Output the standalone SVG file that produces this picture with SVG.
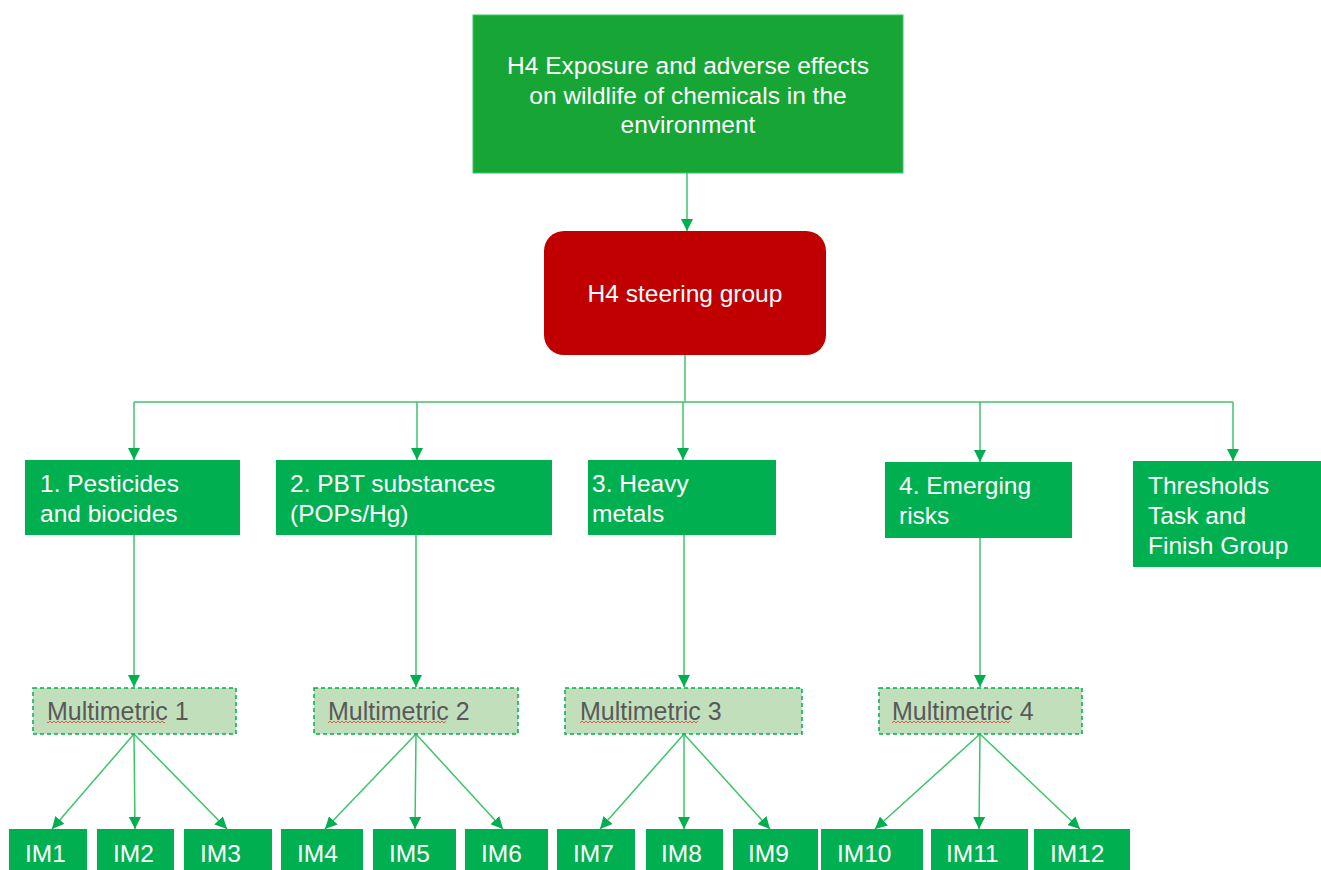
<svg xmlns="http://www.w3.org/2000/svg" width="1321" height="870" viewBox="0 0 1321 870">
<style>
  text { font-family: "Liberation Sans", Arial, sans-serif; font-size: 24.5px; }
  .w { fill: #ffffff; }
  .g { fill: #00b050; }
  .mm { fill: #c2dfbc; stroke: #00b050; stroke-width: 1.5; stroke-dasharray: 4 3; }
  .mt { fill: #595959; font-size: 25px; }
  .c { stroke: #3cc46a; stroke-width: 1.5; fill: none; }
  .ca { stroke: #3cc46a; stroke-width: 1.5; fill: none; marker-end: url(#ah); }
</style>
<defs>
  <marker id="ah" markerUnits="userSpaceOnUse" markerWidth="12" markerHeight="12" viewBox="0 0 12 12" refX="12" refY="6" orient="auto">
    <path d="M0,0 L12,6 L0,12 Z" fill="#00b050"/>
  </marker>
  <pattern id="wavy" patternUnits="userSpaceOnUse" x="0" y="0" width="4" height="4">
    <polyline points="0,3 2,1 4,3" fill="none" stroke="#e05a4a" stroke-width="1"/>
  </pattern>
</defs>
<rect width="1321" height="870" fill="#ffffff"/>

<g id="connectors">
  <line class="ca" x1="687" y1="173" x2="687" y2="231"/>
  <line class="c" x1="685" y1="355" x2="685" y2="402"/>
  <line class="c" x1="134" y1="402" x2="1233" y2="402"/>
  <line class="ca" x1="134" y1="402" x2="134" y2="460"/>
  <line class="ca" x1="417" y1="402" x2="417" y2="460"/>
  <line class="ca" x1="683" y1="402" x2="683" y2="460"/>
  <line class="ca" x1="980" y1="402" x2="980" y2="462"/>
  <line class="ca" x1="1233" y1="402" x2="1233" y2="461"/>
  <line class="ca" x1="134" y1="535" x2="134" y2="687"/>
  <line class="ca" x1="416" y1="535" x2="416" y2="687"/>
  <line class="ca" x1="684" y1="535" x2="684" y2="687"/>
  <line class="ca" x1="980" y1="538" x2="980" y2="687"/>
  <line class="ca" x1="134" y1="734" x2="52" y2="829"/>
  <line class="ca" x1="134" y1="734" x2="135" y2="829"/>
  <line class="ca" x1="134" y1="734" x2="227" y2="829"/>
  <line class="ca" x1="416" y1="734" x2="325" y2="829"/>
  <line class="ca" x1="416" y1="734" x2="415" y2="829"/>
  <line class="ca" x1="416" y1="734" x2="503" y2="829"/>
  <line class="ca" x1="684" y1="734" x2="600" y2="829"/>
  <line class="ca" x1="684" y1="734" x2="684" y2="829"/>
  <line class="ca" x1="684" y1="734" x2="770" y2="829"/>
  <line class="ca" x1="980" y1="734" x2="875" y2="829"/>
  <line class="ca" x1="980" y1="734" x2="979" y2="829"/>
  <line class="ca" x1="980" y1="734" x2="1080" y2="829"/>
</g>

<g id="h4">
  <rect x="473" y="15" width="430" height="158" fill="#17a535" stroke="#3cc46a" stroke-width="1"/>
  <text class="w" x="688" y="74" text-anchor="middle">H4 Exposure and adverse effects</text>
  <text class="w" x="688" y="104" text-anchor="middle">on wildlife of chemicals in the</text>
  <text class="w" x="688" y="133" text-anchor="middle">environment</text>
</g>

<g id="steering">
  <rect x="544" y="231" width="282" height="124" rx="20" ry="20" fill="#c00000"/>
  <text class="w" x="685" y="302" text-anchor="middle">H4 steering group</text>
</g>

<g id="n1">
  <rect class="g" x="25" y="460" width="215" height="75"/>
  <text class="w" x="40" y="492">1. Pesticides</text>
  <text class="w" x="40" y="522">and biocides</text>
</g>
<g id="n2">
  <rect class="g" x="276" y="460" width="276" height="75"/>
  <text class="w" x="290" y="492">2. PBT substances</text>
  <text class="w" x="290" y="522">(POPs/Hg)</text>
</g>
<g id="n3">
  <rect class="g" x="588" y="460" width="188" height="75"/>
  <text class="w" x="592" y="492">3. Heavy</text>
  <text class="w" x="592" y="522">metals</text>
</g>
<g id="n4">
  <rect class="g" x="885" y="462" width="187" height="76"/>
  <text class="w" x="899" y="494">4. Emerging</text>
  <text class="w" x="899" y="524">risks</text>
</g>
<g id="thresholds">
  <rect class="g" x="1133" y="461" width="188" height="106"/>
  <text class="w" x="1148" y="494">Thresholds</text>
  <text class="w" x="1148" y="524">Task and</text>
  <text class="w" x="1148" y="554">Finish Group</text>
</g>

<g id="m1">
  <rect class="mm" x="33" y="688" width="203" height="46"/>
  <text class="mt" x="47" y="720">Multimetric 1</text>
  <rect x="47" y="721" width="118" height="4" fill="url(#wavy)"/>
</g>
<g id="m2">
  <rect class="mm" x="314" y="688" width="204" height="46"/>
  <text class="mt" x="328" y="720">Multimetric 2</text>
  <rect x="328" y="721" width="118" height="4" fill="url(#wavy)"/>
</g>
<g id="m3">
  <rect class="mm" x="565" y="688" width="237" height="46"/>
  <text class="mt" x="580" y="720">Multimetric 3</text>
  <rect x="580" y="721" width="118" height="4" fill="url(#wavy)"/>
</g>
<g id="m4">
  <rect class="mm" x="879" y="688" width="203" height="46"/>
  <text class="mt" x="892" y="720">Multimetric 4</text>
  <rect x="892" y="721" width="118" height="4" fill="url(#wavy)"/>
</g>

<g id="im1"><rect class="g" x="9" y="829" width="78" height="41"/><text class="w" x="25" y="862">IM1</text></g>
<g id="im2"><rect class="g" x="97" y="829" width="77" height="41"/><text class="w" x="113" y="862">IM2</text></g>
<g id="im3"><rect class="g" x="184" y="829" width="88" height="41"/><text class="w" x="200" y="862">IM3</text></g>
<g id="im4"><rect class="g" x="281" y="829" width="82" height="41"/><text class="w" x="297" y="862">IM4</text></g>
<g id="im5"><rect class="g" x="373" y="829" width="83" height="41"/><text class="w" x="389" y="862">IM5</text></g>
<g id="im6"><rect class="g" x="465" y="829" width="83" height="41"/><text class="w" x="481" y="862">IM6</text></g>
<g id="im7"><rect class="g" x="557" y="829" width="78" height="41"/><text class="w" x="573" y="862">IM7</text></g>
<g id="im8"><rect class="g" x="646" y="829" width="77" height="41"/><text class="w" x="661" y="862">IM8</text></g>
<g id="im9"><rect class="g" x="733" y="829" width="85" height="41"/><text class="w" x="748" y="862">IM9</text></g>
<g id="im10"><rect class="g" x="821" y="829" width="102" height="41"/><text class="w" x="837" y="862">IM10</text></g>
<g id="im11"><rect class="g" x="931" y="829" width="97" height="41"/><text class="w" x="946" y="862">IM11</text></g>
<g id="im12"><rect class="g" x="1034" y="829" width="96" height="41"/><text class="w" x="1050" y="862">IM12</text></g>
</svg>
